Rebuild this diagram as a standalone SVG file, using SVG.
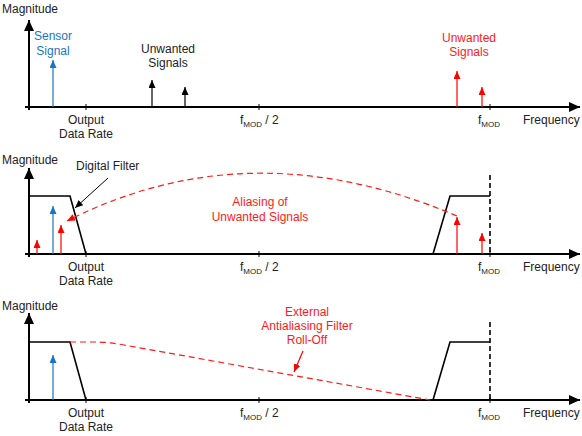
<svg xmlns="http://www.w3.org/2000/svg" width="582" height="436" viewBox="0 0 582 436">
<defs>
<marker id="ahK" markerUnits="userSpaceOnUse" markerWidth="12" markerHeight="12" refX="11" refY="5" orient="auto"><path d="M0,0 L11,5 L0,10 z" fill="#000"/></marker>
<marker id="sK" markerUnits="userSpaceOnUse" markerWidth="9" markerHeight="8" refX="8" refY="3.5" orient="auto"><path d="M0,0 L8,3.5 L0,7 z" fill="#000"/></marker>
<marker id="sB" markerUnits="userSpaceOnUse" markerWidth="9" markerHeight="8" refX="8" refY="3.5" orient="auto"><path d="M0,0 L8,3.5 L0,7 z" fill="#1a74c4"/></marker>
<marker id="sR" markerUnits="userSpaceOnUse" markerWidth="9" markerHeight="8" refX="8" refY="3.5" orient="auto"><path d="M0,0 L8,3.5 L0,7 z" fill="#ff0000"/></marker>
<marker id="pK" markerUnits="userSpaceOnUse" markerWidth="9" markerHeight="8" refX="8" refY="3.5" orient="auto"><path d="M0,0 L8,3.5 L0,7 z" fill="#000"/></marker>
</defs>
<style>
text{font-family:"Liberation Sans",Arial,sans-serif;font-size:12px;fill:#222}
.c{text-anchor:middle}
.red{fill:#ff1a1a}
.blue{fill:#1a74c4}
.axis{stroke:#000;stroke-width:2;fill:none}
.tick{stroke:#000;stroke-width:1}
.filt{stroke:#000;stroke-width:1.6;fill:none}
.vd{stroke:#000;stroke-width:1.6;stroke-dasharray:5,3}
.sk{stroke:#000;stroke-width:1.2;marker-end:url(#sK)}
.sb{stroke:#1a74c4;stroke-width:1.2;marker-end:url(#sB)}
.sr{stroke:#ff0000;stroke-width:1.2;marker-end:url(#sR)}
.rd{stroke:#ff1a1a;stroke-width:1.2;stroke-dasharray:6,4;fill:none}
.sub{font-size:8px}
</style>

<g id="panel1">
<g id="axes1">
<line class="axis" x1="29" y1="110" x2="29" y2="20" marker-end="url(#ahK)"/>
<line class="axis" x1="25" y1="107" x2="580" y2="107" marker-end="url(#ahK)"/>
<line class="tick" x1="86" y1="104" x2="86" y2="110"/>
<line class="tick" x1="259" y1="104" x2="259" y2="110"/>
<line class="tick" x1="490" y1="104" x2="490" y2="110"/>
</g>
<text x="2" y="13">Magnitude</text>
<text class="c" x="86" y="124">Output</text>
<text class="c" x="86" y="138">Data Rate</text>
<text x="240" y="124">f<tspan class="sub" dy="3">MOD</tspan><tspan dy="-3"> / 2</tspan></text>
<text x="478" y="124">f<tspan class="sub" dy="3">MOD</tspan></text>
<text x="523" y="124">Frequency</text>
<g id="sig1">
<line class="sb" x1="53" y1="107" x2="53" y2="60"/>
<line class="sk" x1="152" y1="107" x2="152" y2="80"/>
<line class="sk" x1="185" y1="107" x2="185" y2="87"/>
<line class="sr" x1="457" y1="107" x2="457" y2="71"/>
<line class="sr" x1="482" y1="107" x2="482" y2="87"/>
</g>
<text class="c blue" x="53" y="40">Sensor</text>
<text class="c blue" x="53" y="55">Signal</text>
<text class="c" x="168" y="53">Unwanted</text>
<text class="c" x="168" y="67">Signals</text>
<text class="c red" x="469" y="42">Unwanted</text>
<text class="c red" x="469" y="56">Signals</text>
</g>

<g id="panel2">
<g id="axes2">
<line class="axis" x1="29" y1="257" x2="29" y2="168" marker-end="url(#ahK)"/>
<line class="axis" x1="25" y1="254" x2="580" y2="254" marker-end="url(#ahK)"/>
<line class="tick" x1="86" y1="251" x2="86" y2="257"/>
<line class="tick" x1="259" y1="251" x2="259" y2="257"/>
<line class="tick" x1="490" y1="251" x2="490" y2="257"/>
</g>
<text x="2" y="164">Magnitude</text>
<text class="c" x="86" y="271">Output</text>
<text class="c" x="86" y="285">Data Rate</text>
<text x="240" y="271">f<tspan class="sub" dy="3">MOD</tspan><tspan dy="-3"> / 2</tspan></text>
<text x="478" y="271">f<tspan class="sub" dy="3">MOD</tspan></text>
<text x="523" y="271">Frequency</text>
<polyline class="filt" points="29,196 70,196 86,254"/>
<polyline class="filt" points="433,254 450,196 490,196"/>
<line class="vd" x1="490" y1="175" x2="490" y2="254"/>
<g id="sig2">
<line class="sr" x1="37" y1="254" x2="37" y2="240"/>
<line class="sb" x1="53" y1="254" x2="53" y2="206"/>
<line class="sr" x1="61" y1="254" x2="61" y2="225"/>
<line class="sr" x1="457" y1="254" x2="457" y2="217"/>
<line class="sr" x1="482" y1="254" x2="482" y2="233"/>
</g>
<path class="rd" d="M457,216 Q250,128 67,221" marker-end="url(#sR)"/>
<text x="76" y="170">Digital Filter</text>
<line stroke="#000" stroke-width="1" x1="108" y1="178" x2="75" y2="208" marker-end="url(#pK)"/>
<text class="c red" x="260" y="206">Aliasing of</text>
<text class="c red" x="260" y="221">Unwanted Signals</text>
</g>

<g id="panel3">
<g id="axes3">
<line class="axis" x1="29" y1="403" x2="29" y2="313" marker-end="url(#ahK)"/>
<line class="axis" x1="25" y1="400" x2="580" y2="400" marker-end="url(#ahK)"/>
<line class="tick" x1="86" y1="397" x2="86" y2="403"/>
<line class="tick" x1="259" y1="397" x2="259" y2="403"/>
<line class="tick" x1="490" y1="397" x2="490" y2="403"/>
</g>
<text x="2" y="310">Magnitude</text>
<text class="c" x="86" y="417">Output</text>
<text class="c" x="86" y="431">Data Rate</text>
<text x="240" y="417">f<tspan class="sub" dy="3">MOD</tspan><tspan dy="-3"> / 2</tspan></text>
<text x="478" y="417">f<tspan class="sub" dy="3">MOD</tspan></text>
<text x="523" y="417">Frequency</text>
<polyline class="filt" points="29,342 70,342 86,400"/>
<polyline class="filt" points="433,400 450,342 490,342"/>
<line class="vd" x1="490" y1="322" x2="490" y2="400"/>
<line class="sb" x1="53" y1="400" x2="53" y2="355"/>
<path class="rd" d="M70,342 L96,342 Q108,342 124,345 L430,400"/>
<text class="c red" x="307" y="316">External</text>
<text class="c red" x="307" y="330">Antialiasing Filter</text>
<text class="c red" x="307" y="344">Roll-Off</text>
<line stroke="#ff0000" stroke-width="1.2" x1="303" y1="351" x2="294" y2="372" marker-end="url(#sR)"/>
</g>
</svg>
